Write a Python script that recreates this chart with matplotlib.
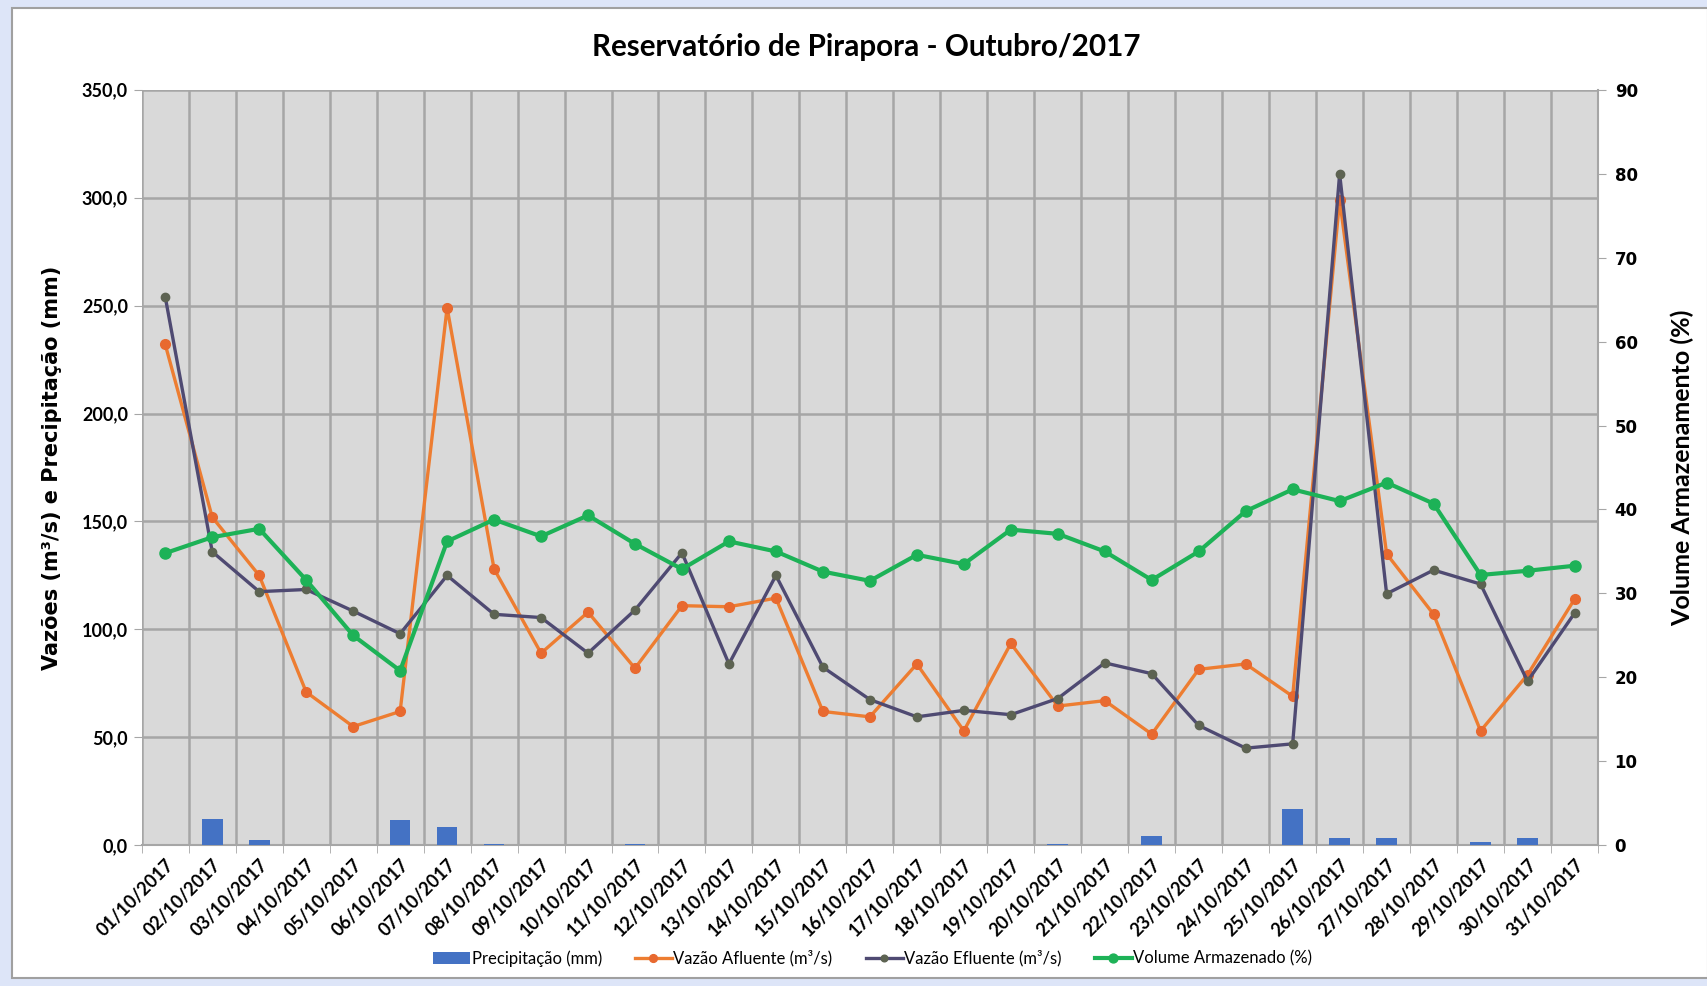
import numpy as np
import matplotlib
matplotlib.use("Agg")
import matplotlib.pyplot as plt
from matplotlib.patches import Rectangle
from matplotlib.ticker import FuncFormatter, FixedLocator

# Dados
datas = [f"{d:02d}/10/2017" for d in range(1, 32)]

precipitacao = [0, 12, 2.5, 0, 0, 11.5, 8.5, 0.5, 0, 0, 0.5, 0, 0, 0, 0, 0,
                0, 0, 0, 0.5, 0, 4.5, 0, 0, 17, 3.5, 3.5, 0, 1.5, 3.5, 0]

vazao_afluente = [232, 152, 125, 71, 55, 62, 249, 128, 89, 108, 82, 111, 110.5,
                  114.5, 62, 59.5, 84, 53, 93.5, 64.5, 67, 51.5, 81.5, 84, 69,
                  299, 135, 107, 53, 79, 114]

vazao_efluente = [254, 136, 117.5, 118.5, 108.5, 98, 125, 107, 105.5, 89, 109,
                  135.5, 84, 125, 82.5, 67.5, 59.5, 62.5, 60.5, 68, 84.5, 79.5,
                  55.5, 45, 47, 311, 116.5, 127.5, 121, 76, 107.5]

volume = [34.8, 36.7, 37.7, 31.6, 25.0, 20.8, 36.2, 38.8, 36.8, 39.3, 35.9,
          32.9, 36.2, 35.0, 32.6, 31.5, 34.6, 33.5, 37.6, 37.1, 35.0, 31.6,
          35.0, 39.8, 42.4, 41.0, 43.2, 40.7, 32.2, 32.7, 33.3]

NARROW = ["Lato", "DejaVu Sans"]

x = np.arange(len(datas))

fig = plt.figure(figsize=(17.08, 9.86), dpi=100)
fig.patch.set_facecolor("#dde5f8")
fig.patches.append(Rectangle((12 / 1708, 8 / 986), 1 - 12 / 1708, 1 - 16 / 986,
                             transform=fig.transFigure, facecolor="white",
                             edgecolor="#a0a0a0", linewidth=1.5, zorder=-10))

ax = fig.add_axes([0.083, 0.1427, 0.8526, 0.7663])
ax.set_facecolor("#d9d9d9")

# barras de precipitacao
b = ax.bar(x, precipitacao, width=0.44, color="#4472c4", zorder=3,
           label="Precipitação (mm)")
l1, = ax.plot(x, vazao_afluente, color="#ed7d31", lw=2.4, marker="o", ms=7,
              mfc="#e8692f", mec="#e8692f", zorder=4, label="Vazão Afluente (m³/s)")
l2, = ax.plot(x, vazao_efluente, color="#4f4a72", lw=2.4, marker="o", ms=6,
              mfc="#5d6352", mec="#5d6352", zorder=5, label="Vazão Efluente (m³/s)")

ax.set_xlim(-0.5, len(datas) - 0.5)
ax.set_ylim(0, 350)
ax.set_yticks(np.arange(0, 351, 50))
ax.yaxis.set_major_formatter(FuncFormatter(lambda v, p: f"{v:.1f}".replace(".", ",")))
ax.grid(axis="y", color="#a6a6a6", lw=1.8, zorder=1)
ax.set_axisbelow(True)

ax.set_xticks(x)
ax.set_xticklabels(datas, rotation=45, ha="right", rotation_mode="anchor",
                   fontsize=13, fontweight="bold", family=NARROW)
ax.xaxis.set_minor_locator(FixedLocator(np.arange(-0.5, len(datas), 1)))
ax.tick_params(axis="x", which="major", length=0, pad=8)
ax.tick_params(axis="x", which="minor", length=6, color="#a6a6a6")
ax.grid(axis="x", which="minor", color="#a6a6a6", lw=1.8, zorder=1)

ax.tick_params(axis="y", labelsize=13, length=6, color="#a6a6a6", pad=4)
for lbl in ax.get_yticklabels():
    lbl.set_fontweight("bold")
    lbl.set_family(NARROW)

for s in ["top", "right", "left"]:
    ax.spines[s].set_visible(False)
ax.spines["bottom"].set_color("#a6a6a6")
ax.spines["bottom"].set_linewidth(1.5)

ax.set_ylabel("Vazões (m³/s) e Precipitação (mm)", fontsize=15,
              fontweight="bold", labelpad=14)

# eixo secundario
ax2 = ax.twinx()
l3, = ax2.plot(x, volume, color="#1db257", lw=3, marker="o", ms=8,
               mfc="#1db257", mec="#1db257", zorder=6, label="Volume Armazenado (%)")
ax2.set_ylim(0, 90)
ax2.set_yticks(np.arange(0, 91, 10))
ax2.tick_params(axis="y", labelsize=12, length=6, color="#a6a6a6", pad=6)
for lbl in ax2.get_yticklabels():
    lbl.set_fontweight("bold")
for s in ["top", "left", "bottom"]:
    ax2.spines[s].set_visible(False)
ax2.spines["right"].set_color("#a6a6a6")
ax2.spines["right"].set_linewidth(1.5)
ax2.set_ylabel("Volume Armazenamento (%)", fontsize=18, fontweight="bold",
               family=NARROW, labelpad=24)

fig.text(0.507, 0.952, "Reservatório de Pirapora - Outubro/2017", ha="center",
         va="center", fontsize=21.3, fontweight="bold", family=NARROW)

fig.legend([b, l1, l2, l3],
           ["Precipitação (mm)", "Vazão Afluente (m³/s)",
            "Vazão Efluente (m³/s)", "Volume Armazenado (%)"],
           loc="center", bbox_to_anchor=(0.511, 0.028),
           ncol=4, frameon=False, prop={"family": NARROW, "size": 12},
           handlelength=2.2, columnspacing=2.0, markerscale=0.8,
           handletextpad=0.1)

fig.savefig("out.png", dpi=100, facecolor=fig.get_facecolor())
